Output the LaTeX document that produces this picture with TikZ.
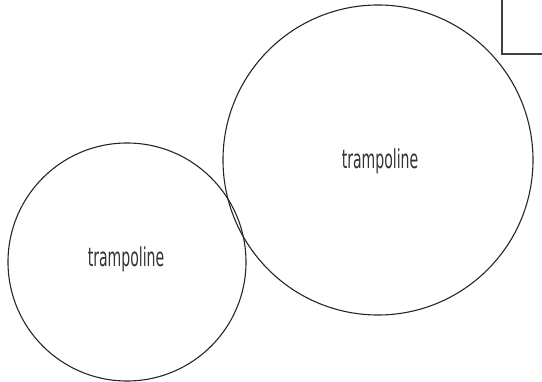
\documentclass[tikz,border=0pt]{standalone}
\usepackage{fontspec}
\newfontfamily\lblfont[FakeStretch=0.54]{DejaVu Sans}
\tikzset{
  ring/.style={draw=black!85, line width=1.1pt, circle, inner sep=0pt},
  lbl/.style={font=\lblfont\fontsize{26}{29}\selectfont, text=black!80, inner sep=0pt},
  frame/.style={draw=black!75, line width=1.2pt}
}
\begin{document}
\begin{tikzpicture}[x=1pt,y=-1pt]
\useasboundingbox (0,0) rectangle (542,382);
\node[ring, minimum size=310pt] (big) at (378,160) {};
\node[ring, minimum size=238pt] (small) at (127,262) {};
\node[lbl] (bigl) at (380,161) {trampoline};
\node[lbl] (smalll) at (126,259) {trampoline};
\coordinate (boxtop) at (502,-5);
\coordinate (boxcorner) at (502,54);
\coordinate (boxright) at (547,54);
\draw[frame] (boxtop) -- (boxcorner) -- (boxright);
\end{tikzpicture}
\end{document}
